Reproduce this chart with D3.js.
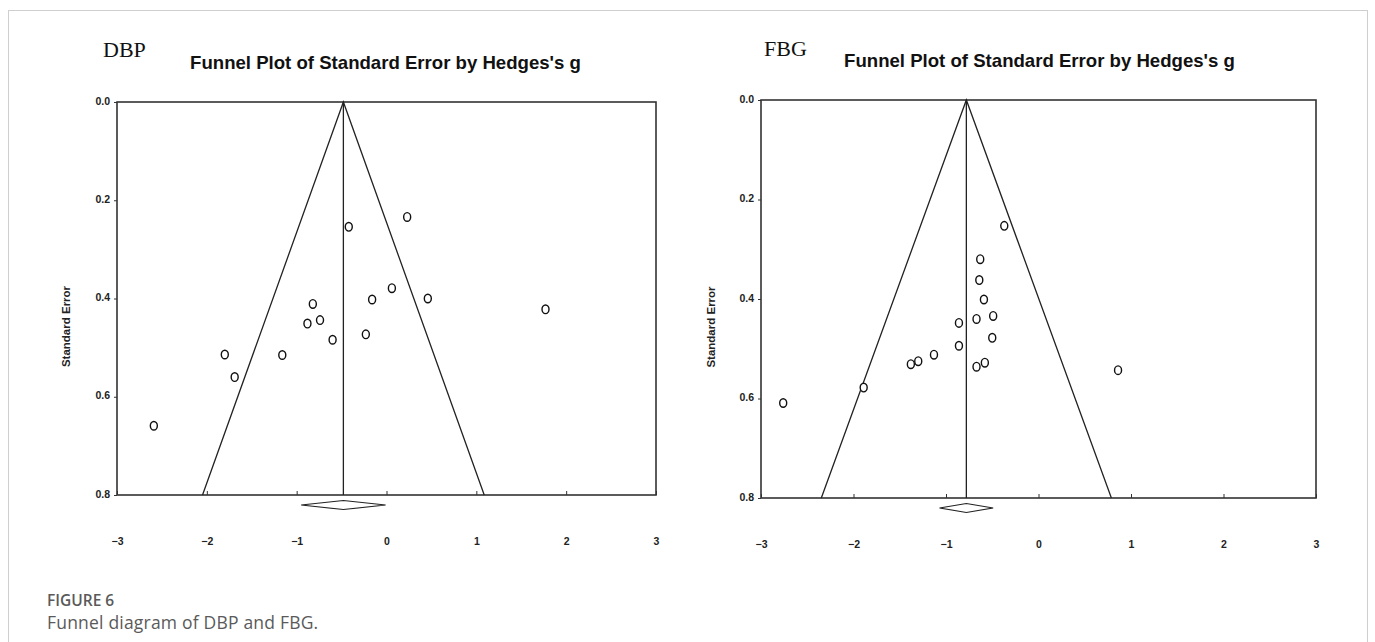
<!DOCTYPE html>
<html>
<head>
<meta charset="utf-8">
<script src="https://cdn.jsdelivr.net/npm/d3@7"></script>
<style>
  html, body { margin: 0; padding: 0; background: #fff; }
  svg { display: block; }
</style>
</head>
<body>
<svg id="chart" width="1375" height="642"></svg>
<script>
// ---- Data ----
const xTickValues = [-3, -2, -1, 0, 1, 2, 3];
const yTickValues = [0.0, 0.2, 0.4, 0.6, 0.8];

const dbpG  = [0.23, -0.42, 0.06, -0.16, 0.46, 1.77, -0.82, -0.88, -0.74, -0.60, -0.23, -1.80, -1.16, -1.69, -2.59];
const dbpSE = [0.234, 0.254, 0.379, 0.402, 0.400, 0.422, 0.411, 0.451, 0.444, 0.484, 0.473, 0.514, 0.515, 0.560, 0.659];
const dbpMean = -0.48;
const dbpCI = [-0.95, -0.01];

const fbgG  = [-0.37, -0.63, -0.64, -0.59, -0.49, -0.67, -0.86, -0.50, -0.86, -1.13, -1.30, -1.38, -0.58, -0.67, 0.86, -1.89, -2.76];
const fbgSE = [0.253, 0.320, 0.362, 0.401, 0.434, 0.440, 0.448, 0.478, 0.494, 0.512, 0.525, 0.531, 0.528, 0.536, 0.543, 0.578, 0.609];
const fbgMean = -0.78;
const fbgCI = [-1.07, -0.49];

const panelLabels = ["DBP", "FBG"];
const plotTitle = "Funnel Plot of Standard Error by Hedges's g";
const yAxisTitle = "Standard Error";
const captionHead = "FIGURE 6";
const captionText = "Funnel diagram of DBP and FBG.";

// ---- Drawing ----
const svg = d3.select("#chart");

// outer light frame
svg.append("rect")
  .attr("x", 8.5).attr("y", 10.5).attr("width", 1359).attr("height", 650)
  .attr("fill", "none").attr("stroke", "#cfcfcf").attr("stroke-width", 1);

const panels = [
  { label: panelLabels[0], g: dbpG, se: dbpSE, mean: dbpMean, ci: dbpCI,
    x0: 117, x1: 656, y0: 102, y1: 495, labelX: 103, labelY: 57, titleX: 385.5, titleY: 69, yTitleX: 70 },
  { label: panelLabels[1], g: fbgG, se: fbgSE, mean: fbgMean, ci: fbgCI,
    x0: 761, x1: 1316, y0: 100, y1: 498, labelX: 764, labelY: 56, titleX: 1039.5, titleY: 67, yTitleX: 715 }
];

panels.forEach(p => {
  const x = d3.scaleLinear().domain([-3, 3]).range([p.x0, p.x1]);
  const y = d3.scaleLinear().domain([0, 0.8]).range([p.y0, p.y1]);
  const gp = svg.append("g");

  // panel label (serif)
  gp.append("text").attr("x", p.labelX).attr("y", p.labelY)
    .attr("font-family", "'Liberation Serif', 'Times New Roman', serif")
    .attr("font-size", 22).attr("fill", "#111").text(p.label);

  // title
  gp.append("text").attr("x", p.titleX).attr("y", p.titleY)
    .attr("text-anchor", "middle")
    .attr("font-family", "'Liberation Sans', Arial, sans-serif")
    .attr("font-weight", "bold").attr("font-size", 18.6).attr("fill", "#111")
    .text(plotTitle);

  // y axis title
  gp.append("text")
    .attr("transform", `translate(${p.yTitleX},${(p.y0 + p.y1) / 2 + 28}) rotate(-90)`)
    .attr("text-anchor", "middle")
    .attr("font-family", "'Liberation Sans', Arial, sans-serif")
    .attr("font-weight", "bold").attr("font-size", 11.5).attr("fill", "#222")
    .text(yAxisTitle);

  // y axis
  const yAxis = gp.append("g").attr("transform", `translate(${p.x0},0)`)
    .call(d3.axisLeft(y).tickValues(yTickValues).tickFormat(d3.format(".1f"))
      .tickSizeInner(3).tickSizeOuter(0).tickPadding(4));
  yAxis.select(".domain").remove();
  yAxis.selectAll("text")
    .attr("font-family", "'Liberation Sans', Arial, sans-serif")
    .attr("font-weight", "bold").attr("font-size", 10.5).attr("fill", "#222")
    .attr("dy", "0.2em");
  yAxis.selectAll("line").attr("stroke", "#333");

  // x axis
  const xAxis = gp.append("g").attr("transform", `translate(0,${p.y1})`)
    .call(d3.axisBottom(x).tickValues(xTickValues).tickFormat(d3.format("d"))
      .tickSizeInner(-4).tickSizeOuter(0).tickPadding(43));
  xAxis.select(".domain").remove();
  xAxis.selectAll("text")
    .attr("font-family", "'Liberation Sans', Arial, sans-serif")
    .attr("font-weight", "bold").attr("font-size", 10.5).attr("fill", "#222");
  xAxis.selectAll("line").attr("stroke", "#333");

  // box
  gp.append("rect")
    .attr("x", p.x0).attr("y", p.y0)
    .attr("width", p.x1 - p.x0).attr("height", p.y1 - p.y0)
    .attr("fill", "none").attr("stroke", "#333").attr("stroke-width", 1.6);

  // funnel
  const funnel = [
    [p.mean - 1.96 * 0.8, 0.8],
    [p.mean, 0],
    [p.mean + 1.96 * 0.8, 0.8]
  ];
  gp.append("path")
    .attr("d", d3.line().x(d => x(d[0])).y(d => y(d[1]))(funnel))
    .attr("fill", "none").attr("stroke", "#222").attr("stroke-width", 1.3);

  // mean line
  gp.append("line")
    .attr("x1", x(p.mean)).attr("x2", x(p.mean))
    .attr("y1", y(0)).attr("y2", y(0.8))
    .attr("stroke", "#222").attr("stroke-width", 1.3);

  // diamond below axis
  const dy = p.y1 + 10;
  const diamond = [
    [x(p.ci[0]), dy], [x(p.mean), dy - 4.5], [x(p.ci[1]), dy], [x(p.mean), dy + 4.5]
  ];
  gp.append("path")
    .attr("d", d3.line()(diamond) + "Z")
    .attr("fill", "none").attr("stroke", "#222").attr("stroke-width", 1.2);

  // study points
  const pts = p.g.map((v, i) => ({ g: v, se: p.se[i] }));
  gp.selectAll("ellipse.pt").data(pts).enter().append("ellipse")
    .attr("class", "pt")
    .attr("cx", d => x(d.g)).attr("cy", d => y(d.se))
    .attr("rx", 3.5).attr("ry", 4.3)
    .attr("fill", "#fff").attr("stroke", "#111").attr("stroke-width", 1.4);
});

// caption
svg.append("text").attr("x", 47).attr("y", 606)
  .attr("font-family", "'Open Sans', 'Noto Sans', sans-serif")
  .attr("font-weight", 600).attr("font-size", 15.5).attr("fill", "#5a5a5a")
  .text(captionHead);
svg.append("text").attr("x", 47).attr("y", 629)
  .attr("font-family", "'Open Sans', 'Noto Sans', sans-serif")
  .attr("font-size", 17.5).attr("letter-spacing", 0.2).attr("fill", "#5a5a5a")
  .text(captionText);
</script>
</body>
</html>
